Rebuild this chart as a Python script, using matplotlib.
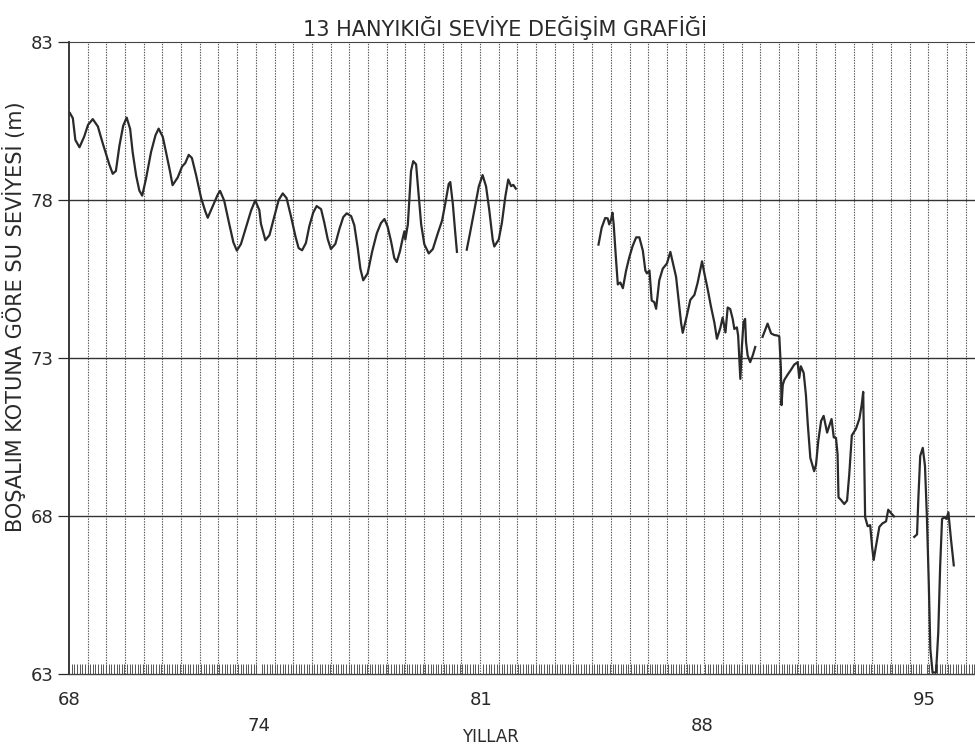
import numpy as np
import matplotlib
matplotlib.use('Agg')
import matplotlib.pyplot as plt
from matplotlib.ticker import MultipleLocator
from matplotlib.transforms import ScaledTranslation

####################
#### chart data ####
####################

# segment 1 : 1968 - 1980.3
years_1 = [68.03, 68.12, 68.20, 68.33, 68.48, 68.60, 68.75, 68.91, 69.06, 69.19, 69.27, 69.38,
           69.48, 69.59, 69.71, 69.82, 69.93, 70.01, 70.12, 70.22, 70.31, 70.43, 70.59, 70.73,
           70.83, 70.96, 71.06, 71.19, 71.27, 71.43, 71.57, 71.67, 71.78, 71.88, 72.01, 72.17,
           72.30, 72.38, 72.54, 72.70, 72.77, 72.90, 73.06, 73.19, 73.30, 73.43, 73.59, 73.75,
           73.88, 74.01, 74.06, 74.20, 74.33, 74.48, 74.62, 74.75, 74.87, 75.01, 75.15, 75.25,
           75.36, 75.48, 75.59, 75.71, 75.82, 75.96, 76.06, 76.17, 76.27, 76.41, 76.54, 76.66,
           76.77, 76.91, 77.01, 77.12, 77.20, 77.29, 77.43, 77.57, 77.72, 77.85, 77.96, 78.06,
           78.17, 78.27, 78.35, 78.45, 78.54, 78.59, 78.62, 78.70, 78.75, 78.80, 78.87, 78.96,
           79.03, 79.12, 79.22, 79.36, 79.49, 79.64, 79.78, 79.88, 79.99, 80.04, 80.12, 80.19,
           80.25]
level_1 = [80.75, 80.59, 79.90, 79.67, 80.01, 80.38, 80.56, 80.33, 79.81, 79.39, 79.13, 78.83,
           78.92, 79.71, 80.35, 80.61, 80.25, 79.51, 78.77, 78.30, 78.14, 78.67, 79.52, 80.05,
           80.26, 80.00, 79.53, 78.90, 78.47, 78.71, 79.06, 79.17, 79.43, 79.33, 78.80, 78.07,
           77.65, 77.44, 77.81, 78.18, 78.29, 77.98, 77.24, 76.66, 76.40, 76.61, 77.14, 77.67,
           77.99, 77.68, 77.25, 76.73, 76.89, 77.47, 78.00, 78.21, 78.06, 77.48, 76.85, 76.48,
           76.41, 76.64, 77.18, 77.60, 77.81, 77.71, 77.29, 76.76, 76.45, 76.61, 77.09, 77.46,
           77.58, 77.49, 77.20, 76.46, 75.83, 75.46, 75.68, 76.36, 76.95, 77.27, 77.40, 77.16,
           76.69, 76.17, 76.04, 76.38, 76.80, 77.01, 76.75, 77.23, 78.07, 78.92, 79.23, 79.13,
           78.29, 77.23, 76.60, 76.31, 76.45, 76.93, 77.35, 77.88, 78.51, 78.57, 77.88, 77.04,
           76.36]

# segment 2 : 1980.5 - 1982.1
years_2 = [80.56, 80.66, 80.80, 80.94, 81.06, 81.17, 81.27, 81.38, 81.43, 81.57, 81.67, 81.78,
           81.87, 81.96, 82.03, 82.11]
level_2 = [76.43, 76.94, 77.68, 78.43, 78.79, 78.43, 77.69, 76.74, 76.53, 76.75, 77.28, 78.12,
           78.65, 78.44, 78.48, 78.36]

# segment 3 : 1984.7 - 1989.7
years_3 = [84.72, 84.82, 84.93, 85.01, 85.06, 85.12, 85.16, 85.20, 85.27, 85.33, 85.41, 85.49,
           85.59, 85.69, 85.80, 85.91, 86.01, 86.12, 86.20, 86.25, 86.33, 86.40, 86.48, 86.54,
           86.64, 86.75, 86.88, 86.99, 87.06, 87.17, 87.25, 87.33, 87.38, 87.48, 87.62, 87.75,
           87.85, 87.99, 88.06, 88.17, 88.27, 88.38, 88.46, 88.57, 88.64, 88.73, 88.80, 88.88,
           88.96, 89.01, 89.09, 89.13, 89.20, 89.25, 89.30, 89.35, 89.38, 89.43, 89.51, 89.59,
           89.67]
level_3 = [76.59, 77.12, 77.43, 77.42, 77.23, 77.39, 77.60, 77.23, 76.17, 75.33, 75.39, 75.21,
           75.76, 76.18, 76.55, 76.82, 76.82, 76.40, 75.77, 75.68, 75.77, 74.82, 74.77, 74.56,
           75.46, 75.83, 75.99, 76.36, 76.05, 75.57, 74.84, 74.10, 73.80, 74.21, 74.84, 75.00,
           75.38, 76.06, 75.70, 75.17, 74.64, 74.12, 73.61, 73.96, 74.28, 73.81, 74.60, 74.55,
           74.23, 73.92, 73.97, 73.71, 72.34, 73.39, 74.13, 74.24, 73.50, 73.08, 72.87, 73.08,
           73.35]

# segment 4 : 1989.9 - 1994.1
years_4 = [89.90, 89.98, 90.06, 90.17, 90.27, 90.38, 90.43, 90.48, 90.50, 90.54, 90.59, 90.69,
           90.80, 90.90, 91.01, 91.06, 91.11, 91.20, 91.27, 91.33, 91.41, 91.53, 91.59, 91.66,
           91.75, 91.83, 91.94, 92.01, 92.08, 92.15, 92.22, 92.27, 92.30, 92.38, 92.48, 92.57,
           92.64, 92.72, 92.85, 92.96, 93.03, 93.08, 93.09, 93.14, 93.22, 93.30, 93.36, 93.41,
           93.48, 93.59, 93.69, 93.80, 93.87, 93.96, 94.05]
level_4 = [73.67, 73.88, 74.09, 73.78, 73.73, 73.71, 73.68, 72.68, 71.51, 72.15, 72.31, 72.47,
           72.63, 72.79, 72.87, 72.37, 72.74, 72.53, 71.84, 70.90, 69.84, 69.42, 69.63, 70.37,
           71.01, 71.17, 70.64, 70.86, 71.07, 70.49, 70.47, 69.96, 68.59, 68.51, 68.38, 68.49,
           69.33, 70.55, 70.76, 71.08, 71.51, 71.93, 71.24, 67.97, 67.68, 67.71, 67.03, 66.61,
           67.03, 67.66, 67.77, 67.83, 68.20, 68.09, 67.99]

# segment 5 : 1994.7 - 1995.9
years_5 = [94.69, 94.78, 94.82, 94.88, 94.96, 95.03, 95.09, 95.15, 95.20, 95.27, 95.38, 95.45,
           95.51, 95.57, 95.64, 95.71, 95.77, 95.80, 95.85, 95.94]
level_5 = [67.34, 67.42, 68.53, 69.90, 70.16, 69.59, 68.00, 65.89, 63.79, 63.05, 63.05, 64.32,
           66.43, 67.91, 67.96, 67.91, 68.12, 67.80, 67.28, 66.44]

y_ticks = [63, 68, 73, 78, 83]
x_ticks = [68, 74, 81, 88, 95]
x_tick_labels = ['68', '74', '81', '88', '95']
ref_lines = [68, 73, 78]

title = '13 HANYIKIĞI SEVİYE DEĞİŞİM GRAFİĞİ'
x_label = 'YILLAR'
y_label = 'BOŞALIM KOTUNA GÖRE SU SEVİYESİ (m)'

#################
#### drawing ####
#################

plt.rcParams['font.family'] = ['DejaVu Sans']
ink = '#2a2a2a'

fig = plt.figure(figsize=(9.75, 7.44), dpi=100, facecolor='white')
ax = fig.add_axes([0.0708, 0.094, 0.9292, 0.8495])

ax.set_xlim(68.0, 96.61)
ax.set_ylim(63, 83)

# vertical grid (dotted, every ~7 months)
for gx in np.arange(68.59, 96.6, 0.59):
    ax.axvline(gx, color='#555555', linestyle=(0, (1.2, 1.2)), linewidth=0.8, zorder=1)

# horizontal reference lines
for gy in ref_lines:
    ax.axhline(gy, color='#333333', linewidth=1.0, zorder=1)

# water level line, one piece per segment
segments = [(years_1, level_1), (years_2, level_2), (years_3, level_3),
            (years_4, level_4), (years_5, level_5)]
for yrs, lev in segments:
    ax.plot(yrs, lev, color=ink, linewidth=1.6, zorder=3)

# spines
ax.spines['right'].set_visible(False)
ax.spines['top'].set_linestyle((0, (1.5, 1)))
ax.spines['top'].set_color('#444444')
ax.spines['left'].set_color(ink)
ax.spines['left'].set_linewidth(1.3)
ax.spines['bottom'].set_color('#444444')
ax.spines['bottom'].set_linewidth(1.0)

# ticks
ax.set_yticks(y_ticks)
ax.tick_params(axis='y', direction='out', length=8, width=0.9, colors=ink,
               labelsize=13, pad=3)
ax.set_xticks(x_ticks)
ax.set_xticklabels(x_tick_labels)
ax.xaxis.set_minor_locator(MultipleLocator(1 / 12))
ax.tick_params(axis='x', which='major', length=0, labelsize=13, colors=ink, pad=12)
ax.tick_params(axis='x', which='minor', direction='in', length=7, width=0.7,
               color='#555555')

# staggered year labels
for i, lbl in enumerate(ax.get_xticklabels()):
    if i % 2 == 1:
        lbl.set_transform(lbl.get_transform() + ScaledTranslation(0, -0.26, fig.dpi_scale_trans))

ax.set_xlabel(x_label, fontsize=12, color=ink)
ax.xaxis.set_label_coords(0.465, -0.085)
ax.set_ylabel(y_label, fontsize=15, color=ink)
ax.yaxis.set_label_coords(-0.047, 0.565)

fig.text(0.518, 0.962, title, ha='center', va='center', fontsize=15, color=ink)

fig.savefig('out.png', dpi=100, facecolor='white')
